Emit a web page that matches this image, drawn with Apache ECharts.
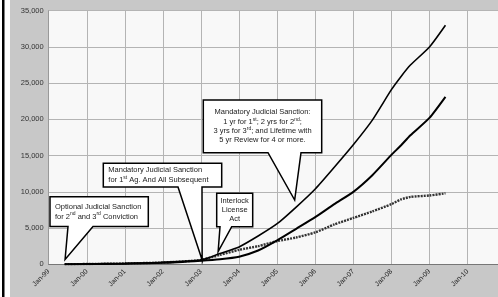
<!DOCTYPE html>
<html>
<head>
<meta charset="utf-8">
<script src="https://cdn.jsdelivr.net/npm/echarts@6/dist/echarts.min.js"></script>
<style>
  html, body { margin: 0; padding: 0; background: #fff; }
  #chart { width: 498px; height: 297px; }
</style>
</head>
<body>
<div id="chart"></div>
<script>
// decimal years
var dates = [1999.42, 2000, 2001, 2002, 2003, 2003.5, 2004, 2004.5, 2005, 2005.5,
             2006, 2006.5, 2007, 2007.5, 2008, 2008.25, 2008.5, 2009, 2009.42];
var topLine = [0, 50, 130, 280, 600, 1500, 2400, 3900, 5600, 7900,
               10400, 13400, 16500, 19900, 24100, 25900, 27500, 30000, 33000];
var midLine = [0, 30, 90, 200, 500, 700, 1050, 1900, 3300, 4900,
               6500, 8300, 10000, 12300, 15100, 16400, 17800, 20200, 23100];
var dotLine = [0, 40, 110, 250, 600, 1300, 2000, 2500, 3200, 3700,
               4400, 5500, 6400, 7300, 8300, 8950, 9300, 9500, 9800];
var yTicks = [0, 5000, 10000, 15000, 20000, 25000, 30000, 35000];

// callouts: box in pixels, tail base, and the point the tail aims at (data coords)
var notes = [
  { lines: ['Optional Judicial Sanction', 'for 2{s|nd} and 3{s|rd} Conviction'], align: 'left',
    box: [50, 196.7, 148.3, 226.5], base: [68, 93], at: [1999.43, 660] },
  { lines: ['Mandatory Judicial Sanction', 'for 1{s|st} Ag. And All Subsequent'], align: 'left',
    box: [103.3, 163.3, 221.7, 187], base: [178, 202], at: [2003.03, 590] },
  { lines: ['Interlock', 'License', 'Act'], align: 'center',
    box: [216.7, 193.3, 252.7, 226.7], base: [220, 231.7], at: [2003.45, 1740] },
  { lines: ['Mandatory Judicial Sanction:', '1 yr for 1{s|st}; 2 yrs for 2{s|nd};',
            '3 yrs for 3{s|rd}; and Lifetime with', '5 yr Review for 4 or more.'], align: 'center',
    box: [203.3, 100, 321.7, 152.7], base: [268, 301], at: [2005.46, 8870] }
];

function pairs(vals) {
  var out = [];
  for (var i = 0; i < vals.length; i++) out.push([dates[i], vals[i]]);
  return out;
}

var chart = echarts.init(document.getElementById('chart'));
var font = 'Liberation Sans, Arial, sans-serif';

chart.setOption({
  animation: false,
  backgroundColor: '#fff',
  grid: { left: 48.7, top: 10.7, right: 0, bottom: 32.7, show: true,
          backgroundColor: '#f8f8f8', borderWidth: 0 },
  xAxis: {
    type: 'value', min: 1999, max: 2010.8, interval: 1,
    axisLine: { show: true, lineStyle: { color: '#777', width: 1 } },
    axisTick: { show: false },
    splitLine: { show: true, lineStyle: { color: '#b4b4b4', width: 1 } },
    axisLabel: {
      rotate: 45, margin: 6, fontSize: 7, color: '#222', fontFamily: font,
      showMaxLabel: false,
      formatter: function (v) {
        if (Math.abs(v - Math.round(v)) > 0.01) return '';
        return 'Jan-' + String(Math.round(v) % 100).padStart(2, '0');
      }
    }
  },
  yAxis: {
    type: 'value', min: yTicks[0], max: yTicks[yTicks.length - 1], interval: 5000,
    axisLine: { show: true, lineStyle: { color: '#999', width: 1 } },
    axisTick: { show: false },
    splitLine: { show: true, lineStyle: { color: '#b4b4b4', width: 1 } },
    axisLabel: {
      margin: 5, fontSize: 7.5, color: '#333', fontFamily: font,
      formatter: function (v) { return v.toLocaleString('en-US'); }
    }
  },
  series: [
    { type: 'line', data: pairs(dotLine), showSymbol: false, z: 2, smooth: 0.2,
      lineStyle: { color: '#333', width: 2.4, type: [2, 1] } },
    { type: 'line', data: pairs(midLine), showSymbol: false, z: 3, smooth: 0.2,
      lineStyle: { color: '#000', width: 2 } },
    { type: 'line', data: pairs(topLine), showSymbol: false, z: 3, smooth: 0.2,
      lineStyle: { color: '#000', width: 1.6 } }
  ]
});

// frame and callouts, placed after the axes exist
var els = [
  { type: 'rect', shape: { x: 10, y: 0, width: 488, height: 297 }, z: -10, silent: true,
    style: { fill: '#c8c8c8' } },
  { type: 'rect', shape: { x: 2, y: 0, width: 2.5, height: 297 }, z: -9, silent: true,
    style: { fill: '#000' } }
];

notes.forEach(function (n) {
  var tip = chart.convertToPixel({ gridIndex: 0 }, n.at);
  var b = n.box;
  els.push({
    type: 'polygon', z: 100, silent: true,
    shape: { points: [[b[0], b[1]], [b[2], b[1]], [b[2], b[3]], [n.base[1], b[3]],
                      tip, [n.base[0], b[3]], [b[0], b[3]]] },
    style: { fill: '#fff', stroke: '#000', lineWidth: 1.5, lineJoin: 'miter' }
  });
  var lh = n.lines.length > 2 ? 9.3 : 10;
  var h = lh * n.lines.length;
  var cy = (b[1] + b[3]) / 2;
  var tx = n.align === 'center' ? (b[0] + b[2]) / 2 : b[0] + 5;
  els.push({
    type: 'text', z: 101, silent: true,
    style: {
      text: n.lines.join('\n'),
      x: tx, y: cy - h / 2,
      align: n.align, textAlign: n.align, verticalAlign: 'top', textVerticalAlign: 'top',
      fontSize: 7.5, fontFamily: font, fill: '#222', lineHeight: lh,
      rich: { s: { fontSize: 5, fontFamily: font, fill: '#222', verticalAlign: 'top', lineHeight: lh } }
    }
  });
});

chart.setOption({ graphic: { elements: els } });
</script>
</body>
</html>
